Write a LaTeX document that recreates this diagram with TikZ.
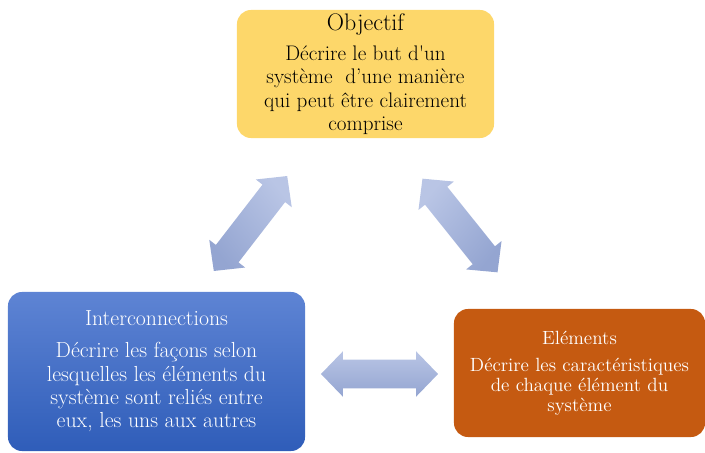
\documentclass[tikz,border=0pt]{standalone}
\usepackage{tikz}
\usetikzlibrary{positioning, shapes.arrows}
\definecolor{objgold}{HTML}{FDD76A}
\definecolor{intertop}{HTML}{5E84D4}
\definecolor{interbot}{HTML}{2F5DB9}
\definecolor{elemrust}{HTML}{C55A11}
\definecolor{arrtop}{HTML}{B9C5E5}
\definecolor{arrbot}{HTML}{94A5D1}
\tikzset{
  block/.style   = {rounded corners=10pt, align=center, inner sep=0pt, font=\fontsize{15}{16.6}\selectfont},
  dblarrow/.style = {double arrow, draw=none, inner xsep=0pt, inner ysep=0.35cm, minimum height=3cm,
                     double arrow head extend=0.21cm, double arrow tip angle=92,
                     top color=arrtop, bottom color=arrbot}
}

\begin{document}
\begin{tikzpicture}[x=0.025cm, y=-0.025cm]
  \useasboundingbox (0,0) rectangle (705,453);
  \node[block, fill=objgold, minimum width=6.425cm, minimum height=3.2cm] (obj) at (365.5,74)
    {{\fontsize{17}{18}\selectfont Objectif}\\[5pt] D\'ecrire le but d\textquotesingle un\\ syst\`eme\ \ d'une mani\`ere\\ qui peut \^etre clairement\\ comprise};
  \node[block, top color=intertop, bottom color=interbot, text=white, font=\fontsize{15.5}{16.6}\selectfont,
        minimum width=7.425cm, minimum height=3.975cm] (inter) at (156.5,371.5)
    {Interconnections\\[6pt] D\'ecrire les fa\c{c}ons selon\\ lesquelles les \'el\'ements du\\ syst\`eme sont reli\'es entre\\ eux, les uns aux autres};
  \node[block, fill=elemrust, text=white, font=\fontsize{13.6}{14.3}\selectfont,
        minimum width=6.275cm, minimum height=3.2cm] (elem) at (579.5,373)
    {El\'ements\\[5pt] D\'ecrire les caract\'eristiques\\ de chaque \'el\'ement du\\ syst\`eme};
  % liaisons entre les blocs
  \node[dblarrow, rotate=52.3, shading angle=-52.3] (arrL) at (250.5,223.5) {};
  \node[dblarrow, rotate=-51.3, shading angle=51.3] (arrR) at (460,225.5) {};
  \node[dblarrow, minimum height=2.925cm] (arrB) at (379.5,374) {};
\end{tikzpicture}
\end{document}
